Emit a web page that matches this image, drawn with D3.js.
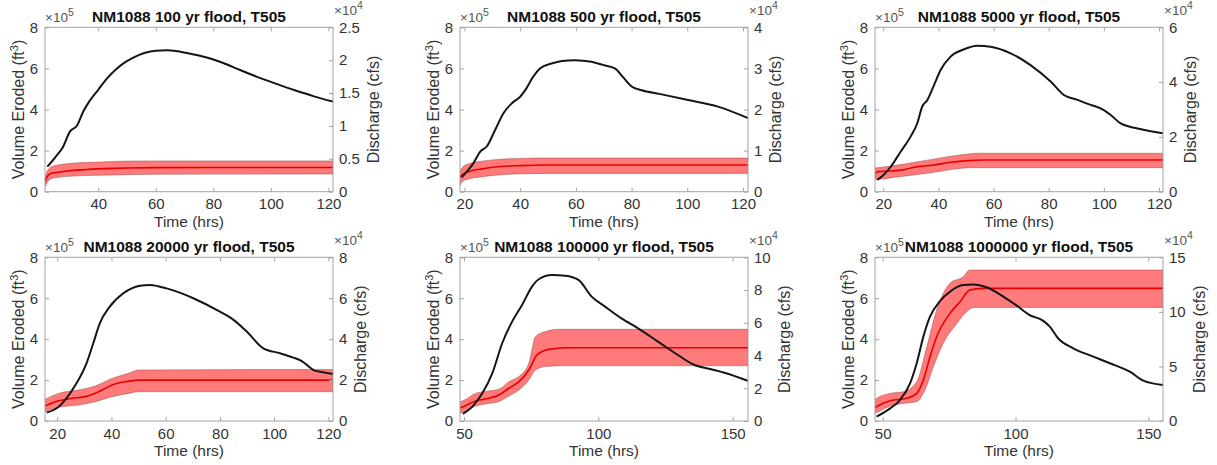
<!DOCTYPE html>
<html><head><meta charset="utf-8">
<script src="https://cdn.jsdelivr.net/npm/d3@7"></script>
<style>body{margin:0;background:#fff}svg{display:block;font-family:"Liberation Sans",Arial,Helvetica,sans-serif}</style>
</head><body><svg id="c" width="1217" height="465"></svg>
<script>
// ---------------- DATA ----------------
const titles = [
  "NM1088 100 yr flood, T505",
  "NM1088 500 yr flood, T505",
  "NM1088 5000 yr flood, T505",
  "NM1088 20000 yr flood, T505",
  "NM1088 100000 yr flood, T505",
  "NM1088 1000000 yr flood, T505"
];
const xLimits = [[21.5,121.6],[18.4,121.8],[17,121.45],[15.5,121.7],[48.5,155.7],[47.1,155.5]];
const xTickValues = [[40,60,80,100,120],[20,40,60,80,100,120],[20,40,60,80,100,120],[20,40,60,80,100,120],[50,100,150],[50,100,150]];
const leftTickValues = [0,2,4,6,8];          // x10^5 ft^3
const leftMax = 8;
const rightMax = [2.5,4,6,8,10,15];           // x10^4 cfs
const rightTickValues = [[0,0.5,1,1.5,2,2.5],[0,1,2,3,4],[0,2,4,6],[0,2,4,6,8],[0,2,4,6,8,10],[0,5,10,15]];

// Discharge (x10^4 cfs) vs time (hrs)
const discharge1 = [[22.3,0.38],[25,0.52],[27.8,0.685],[30.1,0.91],[32.7,1.01],[34.8,1.22],[37,1.38],[40,1.55],[43,1.72],[46.4,1.87],[49,1.96],[52.2,2.04],[56,2.11],[60,2.145],[63.8,2.15],[67,2.14],[70.7,2.11],[75,2.07],[80,2.01],[85,1.93],[89.3,1.85],[95,1.75],[100,1.67],[105,1.59],[110,1.52],[115,1.45],[121.6,1.37]];
const discharge2 = [[19,0.35],[21,0.5],[23.2,0.69],[25.6,0.97],[28,1.1],[31,1.5],[34,1.91],[37,2.15],[40,2.31],[41.7,2.46],[44.7,2.8],[47.1,3.0],[51.3,3.12],[55,3.18],[59.7,3.2],[65.6,3.16],[70,3.08],[74,3.0],[77,2.78],[80,2.56],[83.6,2.47],[90,2.38],[100.3,2.23],[111,2.07],[121.8,1.79]];
const discharge3 = [[17.8,0.43],[20,0.6],[22.7,0.91],[26.3,1.46],[29.9,2.01],[32.3,2.49],[34.1,3.1],[36,3.35],[38.4,3.89],[40.8,4.44],[44.4,4.93],[49.3,5.2],[54.1,5.33],[58.9,5.29],[66.2,5.05],[73.4,4.62],[80.7,4.02],[85.5,3.53],[90.4,3.35],[95,3.18],[100,2.98],[102.5,2.8],[106.1,2.49],[112.2,2.31],[121.45,2.13]];
const discharge4 = [[16.1,0.41],[19.8,0.62],[23.4,1.11],[27.1,1.84],[30.8,2.82],[33.3,3.8],[35.7,4.77],[39.4,5.59],[44.4,6.24],[50.5,6.61],[54.2,6.65],[60.3,6.48],[70.2,6.0],[80,5.34],[85,4.94],[89.9,4.37],[96,3.55],[102.2,3.31],[107.1,3.1],[110.2,2.93],[114.5,2.49],[118,2.38],[121.7,2.3]];
const discharge5 = [[49.6,0.43],[53.1,0.88],[56.8,1.69],[60.5,2.91],[64.2,4.75],[67.9,6.07],[71.6,7.09],[75.3,8.21],[77.8,8.66],[82.7,8.92],[87.7,8.88],[92.6,8.62],[97.5,7.6],[102.5,6.99],[108.6,6.27],[114.8,5.66],[122.2,4.85],[129.6,4.03],[135.8,3.42],[142,3.16],[146.9,2.95],[155.6,2.46]];
const discharge6 = [[47.7,0.4],[52.8,1.16],[56.5,1.92],[60.3,3.45],[62.8,5.29],[65.3,7.73],[67.8,9.56],[71.6,11.0],[75.3,11.85],[80.4,12.46],[84.1,12.5],[89.1,12.25],[95.4,11.4],[100.3,10.6],[105.3,9.71],[110.3,9.2],[112.9,8.65],[116,7.58],[121.7,6.66],[129.3,5.9],[135.5,5.29],[143,4.52],[148.1,3.7],[155.5,3.3]];

// Volume eroded (x10^5 ft^3): mean, upper and lower bounds
const mean1 = [[21.5,0.45],[22.3,0.75],[23.5,0.89],[26,0.95],[30,1.02],[35,1.07],[40,1.11],[50,1.15],[60,1.17],[80,1.18],[121.6,1.18]];
const upper1 = [[21.5,0.75],[22.3,1.0],[23.5,1.2],[26,1.3],[30,1.37],[40,1.44],[50,1.49],[60,1.5],[121.6,1.5]];
const lower1 = [[21.5,0.25],[22.3,0.45],[23.5,0.62],[26,0.7],[30,0.75],[40,0.8],[50,0.83],[60,0.85],[121.6,0.86]];

const mean2 = [[18.4,0.7],[19,0.81],[22,1.0],[26,1.1],[31,1.2],[40,1.27],[50,1.3],[121.8,1.3]];
const upper2 = [[18.4,1.0],[19,1.14],[21,1.33],[26,1.48],[31,1.56],[40,1.62],[50,1.64],[121.8,1.64]];
const lower2 = [[18.4,0.3],[19,0.45],[21,0.6],[26,0.72],[31,0.8],[38,0.86],[50,0.89],[121.8,0.89]];

const mean3 = [[17,0.9],[18,0.97],[26.5,1.05],[32.5,1.22],[38.5,1.3],[44.5,1.43],[50.5,1.51],[56.5,1.54],[121.45,1.54]];
const upper3 = [[17,1.15],[20,1.2],[24,1.27],[32.5,1.46],[39.7,1.62],[45.7,1.75],[50.5,1.83],[54,1.87],[121.45,1.87]];
const lower3 = [[17,0.6],[20,0.62],[24,0.7],[32.5,0.84],[39.7,0.97],[45.7,1.1],[51.7,1.17],[121.45,1.17]];

const mean4 = [[15.5,0.73],[19.3,0.94],[25.5,1.11],[30.4,1.19],[35.3,1.43],[40.2,1.76],[45.1,1.92],[50,2.0],[121.7,2.0]];
const upper4 = [[15.5,1.06],[20.5,1.35],[27.9,1.51],[34,1.71],[40.2,2.08],[46.3,2.33],[50,2.49],[121.7,2.52]];
const lower4 = [[15.5,0.46],[20.5,0.67],[27.9,0.78],[34,0.94],[40.2,1.19],[46.3,1.35],[50,1.43],[121.7,1.43]];

const mean5 = [[48.5,0.65],[49.6,0.7],[54.3,0.98],[59.3,1.11],[63,1.27],[66.7,1.6],[70.4,1.92],[74.1,2.49],[77.2,3.23],[81.5,3.5],[87.7,3.58],[155.7,3.58]];
const upper5 = [[48.5,0.95],[49.6,0.99],[54.3,1.35],[59.3,1.47],[63,1.55],[66.7,1.92],[70.4,2.17],[74.1,2.82],[76.6,4.12],[80.3,4.37],[85.2,4.48],[155.7,4.48]];
const lower5 = [[48.5,0.38],[49.6,0.41],[54.3,0.73],[59.3,0.86],[63,0.95],[66.7,1.22],[70.4,1.51],[74.1,2.0],[76.6,2.49],[80.3,2.66],[86.5,2.7],[155.7,2.7]];

const mean6 = [[47.1,0.65],[47.7,0.7],[52.8,0.99],[59,1.11],[62.8,1.35],[65.3,2.0],[67.8,3.14],[70.3,4.12],[75.3,5.26],[79.1,5.83],[82.8,6.4],[87.8,6.48],[155.5,6.48]];
const upper6 = [[47.1,1.05],[47.7,1.11],[52.8,1.35],[57.8,1.43],[62.8,1.92],[66.6,3.63],[70.3,5.42],[75.3,6.73],[80.4,7.06],[82.8,7.38],[155.5,7.38]];
const lower6 = [[47.1,0.38],[47.7,0.41],[52.8,0.73],[57.8,0.86],[62.8,0.94],[65.9,1.51],[69.1,2.66],[72.8,3.8],[77.9,4.77],[81.6,5.34],[84.1,5.55],[155.5,5.55]];

const xLabel = "Time (hrs)";
const rightLabel = "Discharge (cfs)";

const dischargeSets = [discharge1,discharge2,discharge3,discharge4,discharge5,discharge6];
const meanSets = [mean1,mean2,mean3,mean4,mean5,mean6];
const upperSets = [upper1,upper2,upper3,upper4,upper5,upper6];
const lowerSets = [lower1,lower2,lower3,lower4,lower5,lower6];

// ---------------- LAYOUT ----------------
const cols = [[45,333],[460,748],[875,1163]];
const rows = [[27.3,191.7],[257.3,421]];
const axisColor = "#a3a3a3";
const textColor = "#333333";

const svg = d3.select("#c");

titles.forEach((title, i) => {
  const [L, R] = cols[i % 3];
  const [T, B] = rows[Math.floor(i / 3)];
  const g = svg.append("g");
  const x = d3.scaleLinear().domain(xLimits[i]).range([L, R]);
  const yL = d3.scaleLinear().domain([0, leftMax]).range([B, T]);
  const yR = d3.scaleLinear().domain([0, rightMax[i]]).range([B, T]);

  const clipId = "clip" + i;
  g.append("clipPath").attr("id", clipId).append("rect")
    .attr("x", L).attr("y", T).attr("width", R - L).attr("height", B - T);
  const plot = g.append("g").attr("clip-path", `url(#${clipId})`);

  const curve = d3.curveMonotoneX;
  const lineL = d3.line().x(d => x(d[0])).y(d => yL(d[1])).curve(curve);
  const lineR = d3.line().x(d => x(d[0])).y(d => yR(d[1])).curve(curve);

  // band: upper edge forward, lower edge back
  const up = lineL(upperSets[i]);
  const lo = lineL(lowerSets[i].slice().reverse()).replace(/^M/, "L");
  plot.append("path").attr("d", up + lo + "Z")
    .attr("fill", "#ff7a7a").attr("stroke", "#9a4a4a").attr("stroke-width", 0.7).attr("stroke-opacity", 0.7);
  plot.append("path").attr("d", lineL(meanSets[i]))
    .attr("fill", "none").attr("stroke", "#e60000").attr("stroke-width", 1.6);
  plot.append("path").attr("d", lineR(dischargeSets[i]))
    .attr("fill", "none").attr("stroke", "#151515").attr("stroke-width", 2);

  // box
  g.append("rect").attr("x", L).attr("y", T).attr("width", R - L).attr("height", B - T)
    .attr("fill", "none").attr("stroke", axisColor).attr("stroke-width", 1);

  const fmt = d => String(d);
  const styleAxis = sel => {
    sel.select(".domain").remove();
    sel.selectAll(".tick line").attr("stroke", axisColor);
    sel.selectAll(".tick text").attr("fill", textColor).attr("font-size", 15)
      .attr("font-family", '"Liberation Sans",Arial,sans-serif');
  };

  g.append("g").attr("transform", `translate(0,${B})`)
    .call(d3.axisBottom(x).tickValues(xTickValues[i]).tickFormat(fmt).tickSize(-4).tickPadding(7))
    .call(styleAxis);
  g.append("g").attr("transform", `translate(0,${T})`)
    .call(d3.axisTop(x).tickValues(xTickValues[i]).tickFormat("").tickSize(-4))
    .call(styleAxis);
  g.append("g").attr("transform", `translate(${L},0)`)
    .call(d3.axisLeft(yL).tickValues(leftTickValues).tickFormat(fmt).tickSize(-4).tickPadding(7))
    .call(styleAxis);
  const rAxis = g.append("g").attr("transform", `translate(${R},0)`)
    .call(d3.axisRight(yR).tickValues(rightTickValues[i]).tickFormat(fmt).tickSize(-4).tickPadding(6))
    .call(styleAxis);

  // title
  g.append("text").attr("x", (L + R) / 2).attr("y", T - 5).attr("text-anchor", "middle")
    .attr("font-weight", "bold").attr("font-size", 15.5).attr("fill", "#111").text(title);

  // exponent labels
  const e5 = g.append("text").attr("x", L).attr("y", T - 5).attr("font-size", 13.5).attr("fill", "#555");
  e5.append("tspan").text("×10");
  e5.append("tspan").attr("dy", -6).attr("font-size", 10.5).text("5");
  const e4 = g.append("text").attr("x", R + 1).attr("y", T - 12).attr("font-size", 13.5).attr("fill", "#555");
  e4.append("tspan").text("×10");
  e4.append("tspan").attr("dy", -6).attr("font-size", 10.5).text("4");

  // x label
  g.append("text").attr("x", (L + R) / 2).attr("y", B + 35).attr("text-anchor", "middle")
    .attr("font-size", 15.5).attr("fill", textColor).text(xLabel);

  // left y label
  const yl = g.append("text").attr("transform", `translate(${L - 21},${(T + B) / 2}) rotate(-90)`)
    .attr("text-anchor", "middle").attr("font-size", 16).attr("fill", textColor);
  yl.append("tspan").text("Volume Eroded (ft");
  yl.append("tspan").attr("dy", -6).attr("font-size", 11).text("3");
  yl.append("tspan").attr("dy", 6).text(")");

  // right y label
  let maxW = 0;
  rAxis.selectAll(".tick text").each(function () { maxW = Math.max(maxW, this.getComputedTextLength()); });
  const off = 6 + maxW + 19;
  g.append("text").attr("transform", `translate(${R + off},${(T + B) / 2}) rotate(-90)`)
    .attr("text-anchor", "middle").attr("font-size", 16).attr("fill", textColor).text(rightLabel);
});
</script>
</body></html>
